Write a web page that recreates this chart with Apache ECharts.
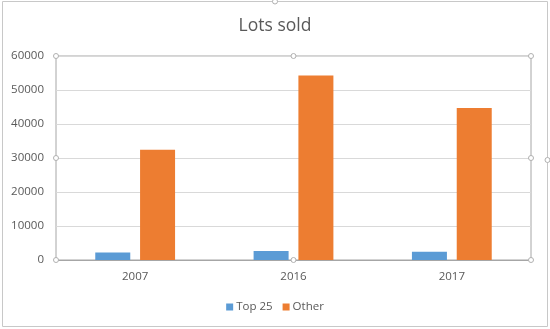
<!DOCTYPE html>
<html><head><meta charset="utf-8">
<script src="https://cdn.jsdelivr.net/npm/echarts@6/dist/echarts.min.js"></script>
<style>html,body{margin:0;padding:0;background:#fff}#c{width:550px;height:329px}</style>
</head><body><div id="c"></div>
<script>
var categories = ['2007', '2016', '2017'];
var top25 = [2200, 2650, 2450];
var other = [32400, 54300, 44700];
var yTicks = [0, 10000, 20000, 30000, 40000, 50000, 60000];

var chart = echarts.init(document.getElementById('c'));
var font = '"Open Sans", "Liberation Sans", sans-serif';
var gl = 56, gr = 531, gt = 56, gb = 260;
function handle(x, y) {
  return {type: 'circle', shape: {cx: x, cy: y, r: 2.5}, style: {fill: '#fff', stroke: '#b0b0b0', lineWidth: 1}, z: 100};
}
var midX = (gl + gr) / 2, midY = (gt + gb) / 2;
chart.setOption({
  animation: false,
  title: {text: 'Lots sold', left: 'center', top: 12, textStyle: {fontFamily: font, fontSize: 17.5, fontWeight: 'normal', color: '#595959'}},
  legend: {bottom: 11, left: 'center', itemWidth: 7, itemHeight: 7, itemGap: 10, icon: 'rect',
    textStyle: {fontFamily: font, fontSize: 11.5, color: '#595959', padding: [0, 0, 0, -2]}, data: ['Top 25', 'Other']},
  grid: {left: gl, right: 550 - gr, top: gt, bottom: 329 - gb, show: true, borderColor: '#a6a6a6', borderWidth: 1},
  xAxis: {type: 'category', data: categories,
    axisLine: {show: true, lineStyle: {color: '#a6a6a6'}}, axisTick: {show: false},
    axisLabel: {fontFamily: font, fontSize: 11.5, color: '#595959', margin: 11}},
  yAxis: {type: 'value', min: yTicks[0], max: yTicks[yTicks.length - 1], interval: yTicks[1] - yTicks[0],
    axisLine: {show: false}, axisTick: {show: false},
    axisLabel: {fontFamily: font, fontSize: 11.5, color: '#595959', margin: 12, formatter: function (v) { return String(v); }},
    splitLine: {lineStyle: {color: '#d9d9d9'}}},
  series: [
    {name: 'Top 25', type: 'bar', data: top25, barWidth: 35, barGap: '28%', itemStyle: {color: '#5b9bd5'}},
    {name: 'Other', type: 'bar', data: other, barWidth: 35, itemStyle: {color: '#ed7d31'}}
  ],
  graphic: [
    {type: 'rect', shape: {x: 2.5, y: 1.5, width: 545, height: 325}, style: {fill: null, stroke: '#c8c8c8', lineWidth: 1}, z: 90},
    handle(gl, gt), handle(midX, gt), handle(gr, gt),
    handle(gl, midY), handle(gr, midY),
    handle(gl, gb), handle(midX, gb), handle(gr, gb),
    handle(275, 1.5), handle(547.5, 160)
  ]
});
</script></body></html>
